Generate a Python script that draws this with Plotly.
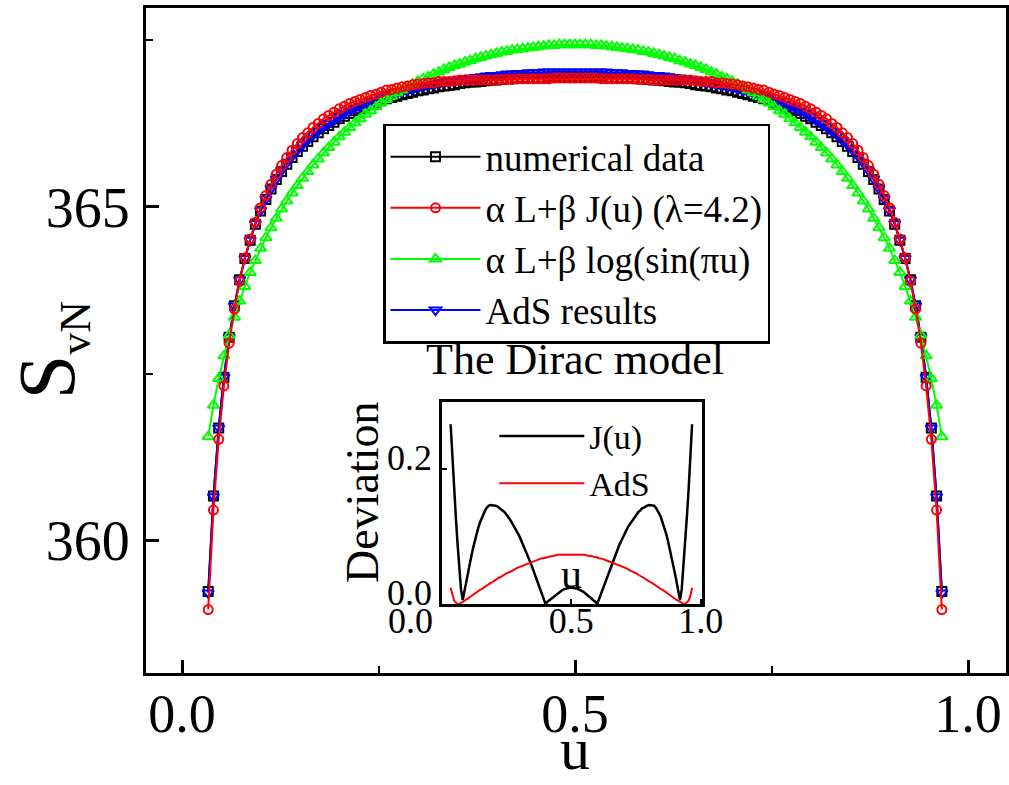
import plotly.graph_objects as go

# ---------------- data ----------------
u = [0.0333, 0.0400, 0.0467, 0.0533, 0.0600, 0.0667, 0.0733, 0.0800, 0.0867, 0.0933,
     0.1000, 0.1067, 0.1133, 0.1200, 0.1267, 0.1333, 0.1400, 0.1467, 0.1533, 0.1600,
     0.1667, 0.1733, 0.1800, 0.1867, 0.1933, 0.2000, 0.2067, 0.2133, 0.2200, 0.2267,
     0.2333, 0.2400, 0.2467, 0.2533, 0.2600, 0.2667, 0.2733, 0.2800, 0.2867, 0.2933,
     0.3000, 0.3067, 0.3133, 0.3200, 0.3267, 0.3333, 0.3400, 0.3467, 0.3533, 0.3600,
     0.3667, 0.3733, 0.3800, 0.3867, 0.3933, 0.4000, 0.4067, 0.4133, 0.4200, 0.4267,
     0.4333, 0.4400, 0.4467, 0.4533, 0.4600, 0.4667, 0.4733, 0.4800, 0.4867, 0.4933,
     0.5000,
     0.5067, 0.5133, 0.5200, 0.5267, 0.5333, 0.5400, 0.5467, 0.5533, 0.5600, 0.5667,
     0.5733, 0.5800, 0.5867, 0.5933, 0.6000, 0.6067, 0.6133, 0.6200, 0.6267, 0.6333,
     0.6400, 0.6467, 0.6533, 0.6600, 0.6667, 0.6733, 0.6800, 0.6867, 0.6933, 0.7000,
     0.7067, 0.7133, 0.7200, 0.7267, 0.7333, 0.7400, 0.7467, 0.7533, 0.7600, 0.7667,
     0.7733, 0.7800, 0.7867, 0.7933, 0.8000, 0.8067, 0.8133, 0.8200, 0.8267, 0.8333,
     0.8400, 0.8467, 0.8533, 0.8600, 0.8667, 0.8733, 0.8800, 0.8867, 0.8933, 0.9000,
     0.9067, 0.9133, 0.9200, 0.9267, 0.9333, 0.9400, 0.9467, 0.9533, 0.9600, 0.9667]

numerical_data = [
    359.24, 360.67, 361.69, 362.45, 363.05, 363.52, 363.91, 364.23, 364.50, 364.74,
    364.94, 365.11, 365.27, 365.41, 365.53, 365.64, 365.74, 365.83, 365.91, 365.98,
    366.05, 366.11, 366.17, 366.22, 366.27, 366.32, 366.36, 366.40, 366.44, 366.47,
    366.50, 366.54, 366.56, 366.59, 366.62, 366.64, 366.66, 366.68, 366.70, 366.72,
    366.74, 366.75, 366.77, 366.78, 366.80, 366.81, 366.82, 366.83, 366.85, 366.86,
    366.87, 366.87, 366.88, 366.89, 366.90, 366.90, 366.91, 366.92, 366.92, 366.93,
    366.93, 366.93, 366.94, 366.94, 366.94, 366.95, 366.95, 366.95, 366.95, 366.95,
    366.95,
    366.95, 366.95, 366.95, 366.95, 366.95, 366.94, 366.94, 366.94, 366.93, 366.93,
    366.93, 366.92, 366.92, 366.91, 366.90, 366.90, 366.89, 366.88, 366.87, 366.87,
    366.86, 366.85, 366.83, 366.82, 366.81, 366.80, 366.78, 366.77, 366.75, 366.74,
    366.72, 366.70, 366.68, 366.66, 366.64, 366.62, 366.59, 366.56, 366.54, 366.50,
    366.47, 366.44, 366.40, 366.36, 366.32, 366.27, 366.22, 366.17, 366.11, 366.05,
    365.98, 365.91, 365.83, 365.74, 365.64, 365.53, 365.41, 365.27, 365.11, 364.94,
    364.74, 364.50, 364.23, 363.91, 363.52, 363.05, 362.45, 361.69, 360.67, 359.24]

fit_J = [
    358.97, 360.46, 361.52, 362.32, 362.96, 363.47, 363.89, 364.24, 364.52, 364.77,
    364.99, 365.17, 365.34, 365.49, 365.62, 365.74, 365.85, 365.95, 366.04, 366.11,
    366.19, 366.25, 366.32, 366.37, 366.42, 366.47, 366.51, 366.55, 366.58, 366.61,
    366.64, 366.67, 366.69, 366.72, 366.75, 366.76, 366.78, 366.80, 366.81, 366.83,
    366.84, 366.85, 366.86, 366.86, 366.88, 366.88, 366.88, 366.89, 366.90, 366.90,
    366.90, 366.90, 366.90, 366.90, 366.90, 366.90, 366.91, 366.91, 366.91, 366.92,
    366.92, 366.92, 366.92, 366.92, 366.92, 366.92, 366.93, 366.93, 366.93, 366.93,
    366.93,
    366.93, 366.93, 366.93, 366.93, 366.92, 366.92, 366.92, 366.92, 366.92, 366.92,
    366.92, 366.91, 366.91, 366.91, 366.90, 366.90, 366.90, 366.90, 366.90, 366.90,
    366.90, 366.90, 366.89, 366.88, 366.88, 366.88, 366.86, 366.86, 366.85, 366.84,
    366.83, 366.81, 366.80, 366.78, 366.76, 366.75, 366.72, 366.69, 366.67, 366.64,
    366.61, 366.58, 366.55, 366.51, 366.47, 366.42, 366.37, 366.32, 366.25, 366.19,
    366.11, 366.04, 365.95, 365.85, 365.74, 365.62, 365.49, 365.34, 365.17, 364.99,
    364.77, 364.52, 364.24, 363.89, 363.47, 362.96, 362.32, 361.52, 360.46, 358.97]

fit_log = [
    361.56, 362.03, 362.43, 362.77, 363.08, 363.35, 363.59, 363.81, 364.02, 364.20,
    364.38, 364.54, 364.69, 364.83, 364.97, 365.09, 365.21, 365.32, 365.43, 365.53,
    365.63, 365.72, 365.81, 365.89, 365.97, 366.05, 366.12, 366.19, 366.26, 366.32,
    366.39, 366.44, 366.50, 366.56, 366.61, 366.66, 366.71, 366.75, 366.80, 366.84,
    366.88, 366.92, 366.95, 366.99, 367.02, 367.06, 367.09, 367.12, 367.14, 367.17,
    367.19, 367.22, 367.24, 367.26, 367.28, 367.30, 367.32, 367.33, 367.35, 367.36,
    367.37, 367.38, 367.39, 367.40, 367.41, 367.42, 367.42, 367.43, 367.43, 367.43,
    367.43,
    367.43, 367.43, 367.43, 367.42, 367.42, 367.41, 367.40, 367.39, 367.38, 367.37,
    367.36, 367.35, 367.33, 367.32, 367.30, 367.28, 367.26, 367.24, 367.22, 367.19,
    367.17, 367.14, 367.12, 367.09, 367.06, 367.02, 366.99, 366.95, 366.92, 366.88,
    366.84, 366.80, 366.75, 366.71, 366.66, 366.61, 366.56, 366.50, 366.44, 366.39,
    366.32, 366.26, 366.19, 366.12, 366.05, 365.97, 365.89, 365.81, 365.72, 365.63,
    365.53, 365.43, 365.32, 365.21, 365.09, 364.97, 364.83, 364.69, 364.54, 364.38,
    364.20, 364.02, 363.81, 363.59, 363.35, 363.08, 362.77, 362.43, 362.03, 361.56]

ads_results = [
    359.22, 360.66, 361.69, 362.45, 363.05, 363.52, 363.91, 364.23, 364.50, 364.75,
    364.95, 365.12, 365.28, 365.42, 365.55, 365.66, 365.76, 365.85, 365.93, 366.00,
    366.08, 366.14, 366.20, 366.25, 366.30, 366.35, 366.40, 366.44, 366.48, 366.51,
    366.54, 366.58, 366.60, 366.64, 366.67, 366.69, 366.71, 366.73, 366.75, 366.77,
    366.80, 366.81, 366.83, 366.84, 366.86, 366.87, 366.88, 366.89, 366.91, 366.92,
    366.93, 366.94, 366.95, 366.96, 366.97, 366.97, 366.98, 366.99, 366.99, 367.00,
    367.00, 367.01, 367.01, 367.01, 367.02, 367.02, 367.02, 367.02, 367.02, 367.02,
    367.02,
    367.02, 367.02, 367.02, 367.02, 367.02, 367.02, 367.01, 367.01, 367.01, 367.00,
    367.00, 366.99, 366.99, 366.98, 366.97, 366.97, 366.96, 366.95, 366.94, 366.93,
    366.92, 366.91, 366.89, 366.88, 366.87, 366.86, 366.84, 366.83, 366.81, 366.80,
    366.77, 366.75, 366.73, 366.71, 366.69, 366.67, 366.64, 366.60, 366.58, 366.54,
    366.51, 366.48, 366.44, 366.40, 366.35, 366.30, 366.25, 366.20, 366.14, 366.08,
    366.00, 365.93, 365.85, 365.76, 365.66, 365.55, 365.42, 365.28, 365.12, 364.95,
    364.75, 364.50, 364.23, 363.91, 363.52, 363.05, 362.45, 361.69, 360.66, 359.22]

# inset: deviation from the numerical data
deviation_J = [
    0.267, 0.215, 0.170, 0.130, 0.090, 0.055, 0.022, 0.006, 0.020, 0.033,
    0.046, 0.059, 0.071, 0.083, 0.094, 0.104, 0.113, 0.121, 0.128, 0.134,
    0.139, 0.143, 0.146, 0.147, 0.147, 0.147, 0.146, 0.145, 0.143, 0.142,
    0.139, 0.137, 0.134, 0.131, 0.127, 0.123, 0.119, 0.115, 0.110, 0.105,
    0.100, 0.094, 0.089, 0.083, 0.077, 0.070, 0.064, 0.057, 0.050, 0.043,
    0.036, 0.029, 0.022, 0.015, 0.007, 0.000, 0.003, 0.005, 0.007, 0.010,
    0.012, 0.014, 0.016, 0.018, 0.019, 0.021, 0.022, 0.023, 0.024, 0.024,
    0.024,
    0.024, 0.024, 0.023, 0.022, 0.021, 0.019, 0.018, 0.016, 0.014, 0.012,
    0.010, 0.007, 0.005, 0.003, 0.000, 0.007, 0.015, 0.022, 0.029, 0.036,
    0.043, 0.050, 0.057, 0.064, 0.070, 0.077, 0.083, 0.089, 0.094, 0.100,
    0.105, 0.110, 0.115, 0.119, 0.123, 0.127, 0.131, 0.134, 0.137, 0.139,
    0.142, 0.143, 0.145, 0.146, 0.147, 0.147, 0.147, 0.146, 0.143, 0.139,
    0.134, 0.128, 0.121, 0.113, 0.104, 0.094, 0.083, 0.071, 0.059, 0.046,
    0.033, 0.020, 0.006, 0.022, 0.055, 0.090, 0.130, 0.170, 0.215, 0.267]

deviation_AdS = [
    0.024, 0.012, 0.005, 0.002, 0.000, 0.000, 0.001, 0.003, 0.005, 0.006,
    0.008, 0.010, 0.012, 0.013, 0.015, 0.017, 0.019, 0.021, 0.022, 0.024,
    0.026, 0.027, 0.029, 0.031, 0.032, 0.034, 0.035, 0.037, 0.039, 0.040,
    0.042, 0.043, 0.045, 0.046, 0.047, 0.049, 0.050, 0.051, 0.053, 0.054,
    0.055, 0.056, 0.057, 0.059, 0.060, 0.061, 0.062, 0.063, 0.064, 0.064,
    0.065, 0.066, 0.067, 0.068, 0.068, 0.069, 0.070, 0.070, 0.071, 0.071,
    0.072, 0.072, 0.073, 0.073, 0.073, 0.074, 0.074, 0.074, 0.074, 0.074,
    0.074,
    0.074, 0.074, 0.074, 0.074, 0.074, 0.073, 0.073, 0.073, 0.072, 0.072,
    0.071, 0.071, 0.070, 0.070, 0.069, 0.068, 0.068, 0.067, 0.066, 0.065,
    0.064, 0.064, 0.063, 0.062, 0.061, 0.060, 0.059, 0.057, 0.056, 0.055,
    0.054, 0.053, 0.051, 0.050, 0.049, 0.047, 0.046, 0.045, 0.043, 0.042,
    0.040, 0.039, 0.037, 0.035, 0.034, 0.032, 0.031, 0.029, 0.027, 0.026,
    0.024, 0.022, 0.021, 0.019, 0.017, 0.015, 0.013, 0.012, 0.010, 0.008,
    0.006, 0.005, 0.003, 0.001, 0.000, 0.000, 0.002, 0.005, 0.012, 0.024]

main_xticks = [0.0, 0.5, 1.0]
main_yticks = [360, 365]
inset_xticks = [0.0, 0.5, 1.0]
inset_xlabels = ["0.0" + "\u00a0" * 7, "0.5", "1.0"]
inset_yticks = [0.0, 0.2]
inset_ylabels = ["0.0", "0.2"]

SERIF = "Liberation Serif"

fig = go.Figure()

fig.add_trace(go.Scatter(
    x=u, y=numerical_data, mode="lines+markers", name="numerical data",
    line=dict(color="#000000", width=2),
    marker=dict(symbol="square-open", size=9, color="#000000", line=dict(width=2)),
    legendrank=1))
fig.add_trace(go.Scatter(
    x=u, y=ads_results, mode="lines+markers", name="AdS results",
    line=dict(color="#0000ff", width=2),
    marker=dict(symbol="triangle-down-open", size=10, color="#0000ff", line=dict(width=2)),
    legendrank=4))
fig.add_trace(go.Scatter(
    x=u, y=fit_log, mode="lines+markers", name="\u03b1 L+\u03b2 log(sin(\u03c0u)",
    line=dict(color="#00ff00", width=2),
    marker=dict(symbol="triangle-up-open", size=10, color="#00ff00", line=dict(width=2)),
    legendrank=3))
fig.add_trace(go.Scatter(
    x=u, y=fit_J, mode="lines+markers", name="\u03b1 L+\u03b2 J(u) (\u03bb=4.2)",
    line=dict(color="#ff0000", width=2),
    marker=dict(symbol="circle-open", size=9, color="#ff0000", line=dict(width=2)),
    legendrank=2))

# inset
fig.add_trace(go.Scatter(
    x=u, y=deviation_J, mode="lines", name="J(u)", xaxis="x2", yaxis="y2",
    line=dict(color="#000000", width=2.5), legend="legend2", legendrank=1))
fig.add_trace(go.Scatter(
    x=u, y=deviation_AdS, mode="lines", name="AdS", xaxis="x2", yaxis="y2",
    line=dict(color="#ff0000", width=2), legend="legend2", legendrank=2))

axis_common = dict(showgrid=False, zeroline=False, showline=True, linecolor="#000000",
                   mirror=True, ticks="inside", tickcolor="#000000")

fig.update_layout(
    width=1009, height=785,
    margin=dict(l=146, r=3, t=8, b=112, autoexpand=False),
    paper_bgcolor="white", plot_bgcolor="white",
    font=dict(family=SERIF, color="#000000"),
    xaxis=dict(**axis_common, range=[-0.0458, 1.0483], tickvals=main_xticks,
               tickformat=".1f", ticklen=13, tickwidth=2.5, linewidth=3,
               tickfont=dict(size=54, family=SERIF), ticklabelstandoff=-9,
               minor=dict(ticks="inside", tickvals=[0.25, 0.75], ticklen=7,
                          tickwidth=2, tickcolor="#000000")),
    yaxis=dict(**axis_common, range=[358.02, 367.98], tickvals=main_yticks,
               ticklen=13, tickwidth=2.5, linewidth=3,
               tickfont=dict(size=56, family=SERIF), ticklabelstandoff=2,
               minor=dict(ticks="inside", tickvals=[362.5, 367.5], ticklen=7,
                          tickwidth=2, tickcolor="#000000")),
    xaxis2=dict(**axis_common, domain=[0.3442, 0.6465], anchor="y2", range=[0, 1.005],
                tickvals=inset_xticks, ticktext=inset_xlabels, ticklen=5, tickwidth=2,
                linewidth=2.5, tickfont=dict(size=36, family=SERIF), ticklabelstandoff=-17),
    yaxis2=dict(**axis_common, domain=[0.1038, 0.4075], anchor="x2", range=[0, 0.3],
                tickvals=inset_yticks, ticktext=inset_ylabels, ticklen=5, tickwidth=2,
                linewidth=2.5, tickfont=dict(size=36, family=SERIF), ticklabelshift=-12),
    legend=dict(x=0.2756, y=0.826, xanchor="left", yanchor="top",
                bordercolor="#000000", borderwidth=2.5, bgcolor="white",
                font=dict(size=37, family=SERIF), itemwidth=90, tracegroupgap=0),
    legend2=dict(x=0.405, y=0.3995, xanchor="left", yanchor="top",
                 bgcolor="rgba(0,0,0,0)", borderwidth=0,
                 font=dict(size=34, family=SERIF), itemwidth=85),
    showlegend=True,
    annotations=[
        dict(text="S<sub><span style='font-size:44px'>vN</span></sub>", xref="paper", yref="paper",
             x=-0.11, y=0.486, xanchor="center", yanchor="middle", textangle=-90,
             showarrow=False, font=dict(size=80, family=SERIF)),
        dict(text="u", xref="paper", yref="paper", x=0.4988, y=-0.1669,
             xanchor="center", yanchor="bottom", showarrow=False,
             font=dict(size=60, family=SERIF)),
        dict(text="The Dirac model", xref="paper", yref="paper", x=0.4988, y=0.4707,
             xanchor="center", yanchor="middle", showarrow=False,
             font=dict(size=44, family=SERIF)),
        dict(text="Deviation", xref="paper", yref="paper", x=0.2523, y=0.2722,
             xanchor="center", yanchor="middle", textangle=-90, showarrow=False,
             font=dict(size=46, family=SERIF)),
        dict(text="u", xref="paper", yref="paper", x=0.4953, y=0.1489,
             xanchor="center", yanchor="middle", showarrow=False,
             font=dict(size=42, family=SERIF)),
    ],
)

fig.write_html("out.html")
